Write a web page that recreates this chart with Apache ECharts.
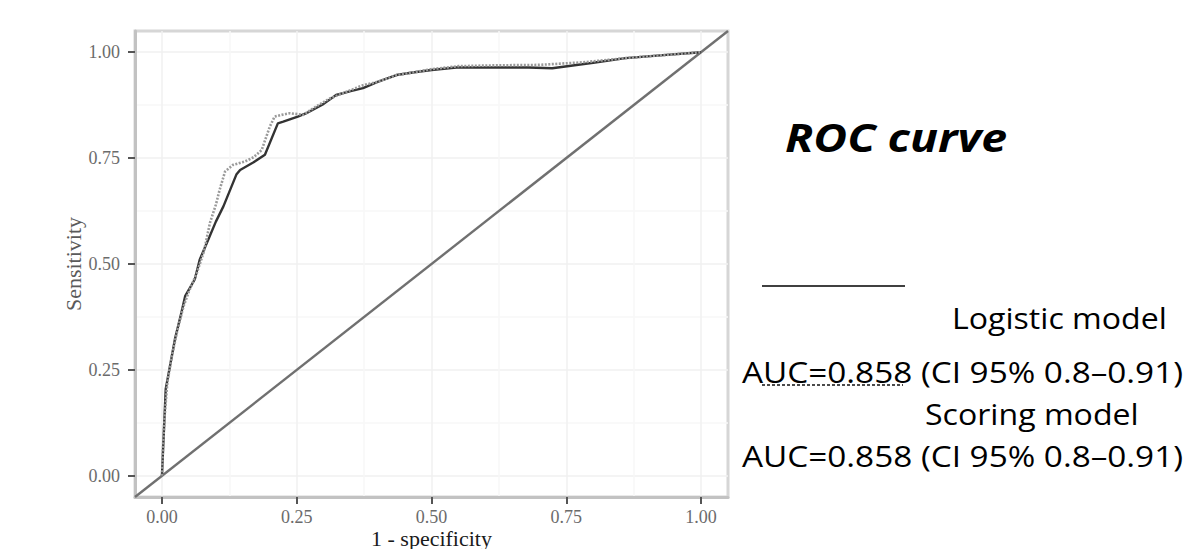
<!DOCTYPE html>
<html><head><meta charset="utf-8">
<script src="https://cdn.jsdelivr.net/npm/echarts@6/dist/echarts.min.js"></script>
<style>html,body{margin:0;padding:0;background:#fff}#c{width:1189px;height:549px}</style>
</head><body><div id="c"></div>
<script>
// ---- data ----
const tickValues = [0, 0.25, 0.5, 0.75, 1];
const minorTickValues = [0.125, 0.375, 0.625, 0.875];
const logisticFpr = [0, 0.002, 0.004, 0.007, 0.015, 0.024, 0.036, 0.043, 0.061, 0.07, 0.086, 0.1, 0.114, 0.138, 0.145, 0.17, 0.191, 0.215, 0.225, 0.252, 0.268, 0.3, 0.323, 0.35, 0.373, 0.4, 0.435, 0.465, 0.5, 0.546, 0.6, 0.68, 0.724, 0.8, 0.86, 0.93, 1.0];
const logisticTpr = [0, 0.06, 0.118, 0.205, 0.26, 0.322, 0.385, 0.424, 0.464, 0.51, 0.558, 0.6, 0.636, 0.711, 0.722, 0.74, 0.758, 0.832, 0.836, 0.848, 0.856, 0.878, 0.899, 0.908, 0.915, 0.93, 0.946, 0.952, 0.958, 0.964, 0.964, 0.964, 0.962, 0.975, 0.986, 0.993, 1.0];
const scoringFpr = [0, 0.002, 0.005, 0.01, 0.018, 0.028, 0.04, 0.05, 0.065, 0.078, 0.089, 0.1, 0.107, 0.117, 0.132, 0.154, 0.17, 0.185, 0.2, 0.209, 0.222, 0.237, 0.262, 0.28, 0.31, 0.345, 0.373, 0.4, 0.435, 0.47, 0.5, 0.55, 0.62, 0.7, 0.78, 0.86, 0.93, 1.0];
const scoringTpr = [0, 0.07, 0.14, 0.22, 0.28, 0.34, 0.4, 0.435, 0.48, 0.53, 0.597, 0.64, 0.675, 0.718, 0.734, 0.742, 0.752, 0.769, 0.824, 0.848, 0.852, 0.856, 0.852, 0.867, 0.89, 0.908, 0.922, 0.93, 0.946, 0.953, 0.96, 0.967, 0.969, 0.97, 0.976, 0.986, 0.993, 1.0];
const chanceX = [-0.05, 1.05];
const chanceY = [-0.05, 1.05];
const xTitle = '1 - specificity';
const yTitle = 'Sensitivity';
const plotTitle = 'ROC curve';
const legendNames = ['Logistic model', 'Scoring model'];
const aucTexts = ['AUC=0.858 (CI 95% 0.8\u20130.91)', 'AUC=0.858 (CI 95% 0.8\u20130.91)'];

const zip = (a, b) => a.map((v, i) => [v, b[i]]);
const serif = 'Liberation Serif';
const sans = 'Open Sans';

function txt(str, x, y, size, sx, extra) {
  return {
    type: 'text', x: x, y: y, scaleX: sx, silent: true,
    style: Object.assign({
      text: str, fontFamily: sans, fontSize: size, fill: '#000',
      align: 'left', textAlign: 'left', verticalAlign: 'middle', textVerticalAlign: 'middle'
    }, extra || {})
  };
}

const chart = echarts.init(document.getElementById('c'), null, {renderer: 'svg'});
const baseAxis = {type: 'value', min: -0.05, max: 1.05};
chart.setOption({
  animation: false,
  backgroundColor: '#fff',
  grid: {left: 135, right: 461, top: 31, bottom: 52, containLabel: false, outerBoundsMode: 'none',
         show: true, borderColor: '#d6d6d6', borderWidth: 3, backgroundColor: 'transparent'},
  xAxis: [
    Object.assign({}, baseAxis, {
      position: 'bottom',
      axisLine: {show: true, onZero: false, lineStyle: {color: '#c2c2c2', width: 3}},
      axisTick: {show: true, length: 7, customValues: tickValues, lineStyle: {color: '#555', width: 2}},
      axisLabel: {show: true, customValues: tickValues, formatter: v => Number(v).toFixed(2),
        fontFamily: serif, fontSize: 18, color: '#6b6b6b', margin: 11},
      splitLine: {show: true, lineStyle: {color: '#f0f0f0', width: 1.5}},
      name: xTitle, nameLocation: 'middle', nameGap: 30, nameMoveOverlap: false,
      nameTextStyle: {fontFamily: serif, fontSize: 22, color: '#1a1a1a'}
    }),
    Object.assign({}, baseAxis, {
      position: 'top',
      axisLine: {show: false}, axisLabel: {show: false},
      axisTick: {show: false, customValues: minorTickValues},
      splitLine: {show: true, lineStyle: {color: '#f7f7f7', width: 1.5}}
    })
  ],
  yAxis: [
    Object.assign({}, baseAxis, {
      position: 'left',
      axisLine: {show: true, onZero: false, lineStyle: {color: '#c2c2c2', width: 3}},
      axisTick: {show: true, length: 7, customValues: tickValues, lineStyle: {color: '#555', width: 2}},
      axisLabel: {show: true, customValues: tickValues, formatter: v => Number(v).toFixed(2),
        fontFamily: serif, fontSize: 18, color: '#6b6b6b', margin: 15},
      splitLine: {show: true, lineStyle: {color: '#f0f0f0', width: 1.5}},
      name: yTitle, nameLocation: 'middle', nameGap: 51,
      nameTextStyle: {fontFamily: serif, fontSize: 22, color: '#5a5a5a'}
    }),
    Object.assign({}, baseAxis, {
      position: 'right',
      axisLine: {show: false}, axisLabel: {show: false},
      axisTick: {show: false, customValues: minorTickValues},
      splitLine: {show: true, lineStyle: {color: '#f7f7f7', width: 1.5}}
    })
  ],
  series: [
    {type: 'line', name: 'chance', data: zip(chanceX, chanceY), showSymbol: false, silent: true,
     lineStyle: {color: '#707070', width: 2.4}, z: 2},
    {type: 'line', name: legendNames[0], data: zip(logisticFpr, logisticTpr), showSymbol: false,
     lineStyle: {color: '#333', width: 2.4}, z: 3},
    {type: 'line', name: legendNames[1], data: zip(scoringFpr, scoringTpr), showSymbol: false,
     lineStyle: {color: '#9a9a9a', width: 2.6, type: [2, 1.5]}, z: 4}
  ],
  graphic: [
    txt(plotTitle, 785, 137, 39, 1.19, {fontWeight: 'bold', fontStyle: 'italic'}),
    {type: 'line', silent: true, shape: {x1: 762, y1: 286, x2: 905, y2: 286}, style: {stroke: '#000', lineWidth: 1.5}},
    txt(legendNames[0], 952, 317, 30, 1.07),
    txt(aucTexts[0], 742, 371, 30, 1.11),
    {type: 'line', silent: true, shape: {x1: 762, y1: 385, x2: 903, y2: 385}, style: {stroke: '#111', lineWidth: 1.5, lineDash: [3, 2]}},
    txt(legendNames[1], 925, 413, 30, 1.07),
    txt(aucTexts[1], 742, 455, 30, 1.11)
  ]
});
</script>
</body></html>
